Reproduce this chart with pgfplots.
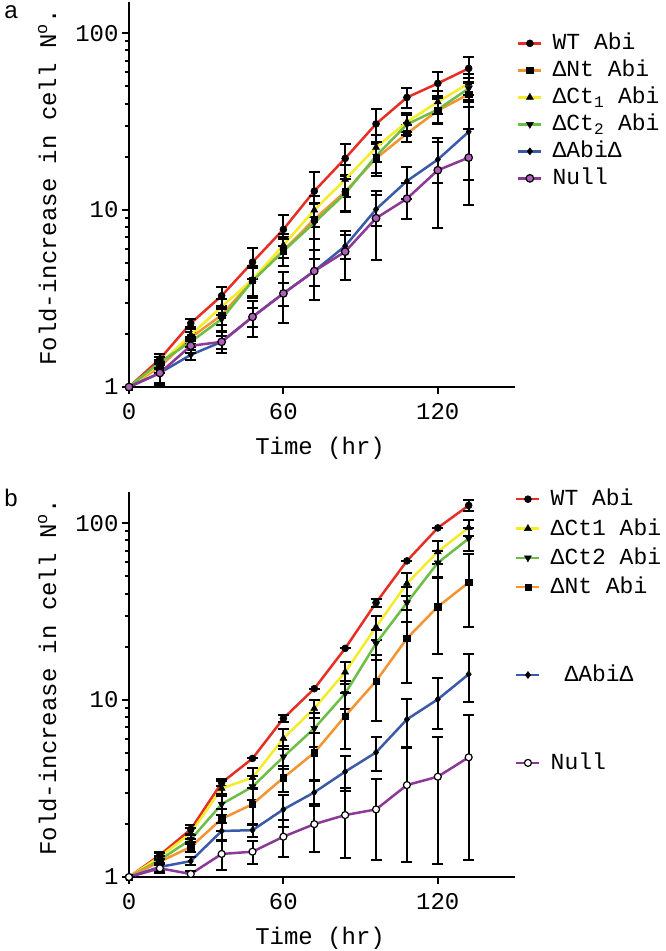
\documentclass[border=0pt]{standalone}
\usepackage{pgfplots}
\pgfplotsset{compat=1.18}
\usepackage{fontspec}
\setmainfont{Liberation Mono}
\newfontfamily\sansf{Liberation Sans}
\definecolor{cred}{RGB}{230,46,37}
\definecolor{corange}{RGB}{242,148,50}
\definecolor{cyellow}{RGB}{245,236,40}
\definecolor{cgreen}{RGB}{108,190,69}
\definecolor{cblue}{RGB}{58,90,168}
\definecolor{cpurple}{RGB}{140,56,150}
\definecolor{cnull}{RGB}{175,95,185}
\newcommand{\fnt}{\fontsize{24bp}{24bp}\selectfont}
\newcommand{\lfnt}{\fontsize{23bp}{23bp}\selectfont}
\pgfplotsset{
  myerr/.style={line width=2.5bp,
    error bars/y dir=both, error bars/y explicit,
    error bars/error mark options={rotate=90, mark size=5.5bp, line width=2bp, black},
    error bars/error bar style={line width=2bp, black}},
  pWT/.style={myerr, cred, mark=*, mark size=3.5bp, mark options={solid, fill=black, draw=black, line width=0.5bp}},
  pNt/.style={myerr, corange, mark=square*, mark size=3.2bp, mark options={solid, fill=black, draw=black, line width=0.5bp}},
  pCa/.style={myerr, cyellow, mark=triangle*, mark size=4bp, mark options={solid, fill=black, draw=black, line width=0.5bp}},
  pCb/.style={myerr, cgreen, mark=triangle*, mark size=4bp, mark options={solid, fill=black, draw=black, line width=0.5bp, rotate=180}},
  pAb/.style={myerr, cblue, mark=diamond*, mark size=3.5bp, mark options={solid, fill=black, draw=black, line width=0.5bp}},
}
\begin{document}
\begin{tikzpicture}
\path[use as bounding box] (0bp,0bp) rectangle (666bp,-951bp);
\node[font=\sansf\fontsize{24bp}{24bp}\selectfont, inner sep=0pt] at (11bp,-12bp) {a};
\node[font=\sansf\fontsize{24bp}{24bp}\selectfont, inner sep=0pt] at (11bp,-498bp) {b};
% ---------------- panel a
\begin{axis}[at={(129bp,-387bp)}, anchor=south west,
    scale only axis, width=386bp, height=385bp,
    xmin=0, xmax=150, ymin=1, ymax=150, ymode=log,
    axis x line*=bottom, axis y line*=left,
    axis line style={line width=2.5bp},
    xtick={0,60,120}, xticklabels={0,60,120},
    ytick={1,10,100}, yticklabels={1,10,100},
    minor ytick={2,3,4,5,6,7,8,9,20,30,40,50,60,70,80,90},
    tick align=outside, major tick length=7bp, minor tick length=4bp,
    tick style={line width=2bp, black},
    xticklabel style={font=\fnt, yshift=-6bp},
    yticklabel style={font=\fnt},
    xlabel={Time (hr)}, ylabel={Fold-increase in cell N\textsuperscript{o}.},
    xlabel style={font=\fnt, at={(axis description cs:0.495,-0.16)}, anchor=center},
    ylabel style={font=\fnt, at={(axis description cs:-0.212,0.518)}, anchor=center},
    clip=false,
    legend cell align=left,
    legend image code/.code={\draw[mark repeat=2,mark phase=2] plot coordinates {(0bp,0bp)(11.5bp,0bp)(23bp,0bp)};},
    legend style={draw=none, fill=none, font=\lfnt, inner sep=0pt,
      nodes={inner sep=0pt, text height=13bp, text depth=0pt},
      at={(1.005,0.910)}, anchor=north west, row sep=14bp,
      /tikz/every odd column/.append style={column sep=10bp}}]
\addplot[pWT] table[x index=0, y index=1, y error index=2] {
0 1 0
12 1.44 0.1
24 2.29 0.12
36 3.28 0.4
48 5.08 1.0
60 7.78 1.55
72 12.8 3.7
84 19.6 4.0
96 30.7 6.8
108 43.3 5.4
120 52 8
132 63.2 10
};
\addlegendentry{WT Abi}
\addplot[pNt] table[x index=0, y index=1, y error index=2] {
0 1 0
12 1.3 0.1
24 1.9 0.15
36 2.55 0.3
48 4.0 0.8
60 5.9 1.1
72 8.86 2.0
84 12.7 3.0
96 19.6 4.0
108 27.1 3.0
120 36.5 6
132 45.2 7
};
\addlegendentry{ΔNt Abi}
\addplot[pCa] table[x index=0, y index=1, y error index=2] {
0 1 0
12 1.35 0.08
24 1.97 0.15
36 2.84 0.3
48 4.05 0.8
60 6.34 1.0
72 10.0 2.0
84 14.9 3.0
96 22.6 4.0
108 31.5 4.0
120 40.9 6
132 52 7
};
\addlegendentry{ΔCt\textsubscript{1} Abi}
\addplot[pCb] table[x index=0, y index=1, y error index=2] {
0 1 0
12 1.38 0.1
24 1.8 0.12
36 2.42 0.35
48 3.98 0.7
60 5.86 1.0
72 8.48 2.5
84 12.4 2.5
96 20.2 4.0
108 30.5 4.0
120 37 6
132 48.7 7
};
\addlegendentry{ΔCt\textsubscript{2} Abi}
\addplot[pAb] table[x index=0, y index=1, y error index=2] {
0 1 0
12 1.2 0.15
24 1.52 0.1
36 1.80 0.15
48 2.49 0.3
60 3.38 0.5
72 4.52 0.8
84 6.26 1.0
96 10.1 2.0
108 14.6 3.0
120 19.3 5
132 27.7 13
};
\addlegendentry{ΔAbiΔ}
\addplot[myerr, cpurple, mark=*, mark size=3.8bp, mark options={solid, fill=cnull, draw=black, line width=1.2bp}] table[x index=0, y index=1, y error index=2] {
0 1 0
12 1.2 0.18
24 1.71 0.15
36 1.80 0.24
48 2.49 0.57
60 3.38 1.07
72 4.52 1.4
84 5.82 1.8
96 9.0 3.8
108 11.6 2.7
120 16.8 8.9
132 19.8 9.1
};
\addlegendentry{Null}
\end{axis}
% ---------------- panel b
\begin{axis}[at={(129bp,-877bp)}, anchor=south west,
    scale only axis, width=386bp, height=385bp,
    xmin=0, xmax=150, ymin=1, ymax=150, ymode=log,
    axis x line*=bottom, axis y line*=left,
    axis line style={line width=2.5bp},
    xtick={0,60,120}, xticklabels={0,60,120},
    ytick={1,10,100}, yticklabels={1,10,100},
    minor ytick={2,3,4,5,6,7,8,9,20,30,40,50,60,70,80,90},
    tick align=outside, major tick length=7bp, minor tick length=4bp,
    tick style={line width=2bp, black},
    xticklabel style={font=\fnt, yshift=-6bp},
    yticklabel style={font=\fnt},
    xlabel={Time (hr)}, ylabel={Fold-increase in cell N\textsuperscript{o}.},
    xlabel style={font=\fnt, at={(axis description cs:0.495,-0.16)}, anchor=center},
    ylabel style={font=\fnt, at={(axis description cs:-0.212,0.518)}, anchor=center},
    clip=false,
    legend cell align=left,
    legend image code/.code={\draw[mark repeat=2,mark phase=2] plot coordinates {(0bp,0bp)(11.5bp,0bp)(23bp,0bp)};},
    legend style={draw=none, fill=none, font=\lfnt, inner sep=0pt,
      nodes={inner sep=0pt, text height=13bp, text depth=0pt},
      at={(1.0,0.9987)}, anchor=north west, row sep=16.3bp,
      /tikz/every odd column/.append style={column sep=10bp}}]
\addplot[pWT] table[x index=0, y index=1, y error index=2] {
0 1 0
12 1.33 0.05
24 1.86 0.1
36 3.41 0.15
48 4.68 0
60 7.88 0.4
72 11.6 0
84 19.6 0
96 35.5 2
108 61.2 0
120 94 0
132 126 9
};
\addlegendentry{WT Abi}
\addplot[pCa] table[x index=0, y index=1, y error index=2] {
0 1 0
12 1.3 0.06
24 1.77 0.12
36 3.17 0.3
48 3.64 0.5
60 6.08 0.8
72 8.97 1.1
84 14.4 2.1
96 25.9 4
108 45.6 6.8
120 68.9 10
132 94.5 10
};
\addlegendentry{ΔCt1 Abi}
\addplot[pCb] table[x index=0, y index=1, y error index=2] {
0 1 0
12 1.25 0.06
24 1.63 0.1
36 2.58 0.35
48 3.24 0.5
60 4.78 0.7
72 6.92 1.5
84 10.9 2
96 20.9 4
108 35.5 8
120 59.7 10
132 81.8 12
};
\addlegendentry{ΔCt2 Abi}
\addplot[pNt] table[x index=0, y index=1, y error index=2] {
0 1 0
12 1.22 0.05
24 1.48 0.1
36 2.13 0.3
48 2.58 0.6
60 3.64 0.6
72 5.04 1.5
84 8.12 2.8
96 12.8 5.2
108 22.3 9.8
120 33.7 15.5
132 46.2 20.4
};
\addlegendentry{ΔNt Abi}
\addlegendimage{empty legend}\addlegendentry{}
\addlegendimage{empty legend}\addlegendentry{}
\addplot[pAb] table[x index=0, y index=1, y error index=2] {
0 1 0
12 1.14 0.06
24 1.23 0.06
36 1.82 0.2
48 1.84 0.15
60 2.41 0.5
72 3.01 0.5
84 3.94 0.87
96 5.06 1.1
108 7.78 2.4
120 10.1 3.2
132 14.0 4.2
};
\addlegendentry{\hspace*{0.6em}ΔAbiΔ}
\addlegendimage{empty legend}\addlegendentry{}
\addlegendimage{empty legend}\addlegendentry{}
\addplot[myerr, cpurple, mark=*, mark size=3.5bp, mark options={solid, fill=white, draw=black, line width=1.2bp}] table[x index=0, y index=1, y error index=2] {
0 1 0
12 1.12 0.06
24 1.04 0.04
36 1.35 0.25
48 1.39 0.2
60 1.69 0.4
72 1.99 0.6
84 2.24 0.96
96 2.41 1.17
108 3.31 2.1
120 3.69 2.5
132 4.75 3.5
};
\addlegendentry{Null}
\end{axis}
\end{tikzpicture}
\end{document}
